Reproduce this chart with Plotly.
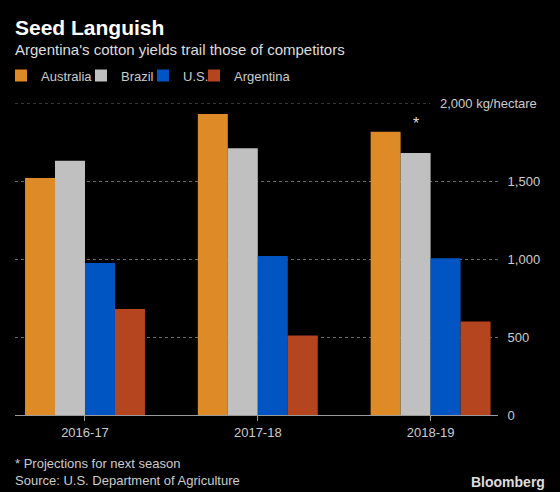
import plotly.graph_objects as go

seasons = ["2016-17", "2017-18", "2018-19"]
australia = [1520, 1930, 1815]
brazil = [1630, 1710, 1680]
us = [975, 1020, 1005]
argentina = [680, 510, 600]
series_names = ["Australia", "Brazil", "U.S.", "Argentina"]
series_values = [australia, brazil, us, argentina]
colors = ["#de8a26", "#c0c0c0", "#0055c2", "#b5451f"]
y_ticks = [0, 500, 1000, 1500]
y_tick_labels = ["0", "500", "1,000", "1,500"]

FONT = "Liberation Sans"
W, H = 560, 492
L, R, T, B = 15, 62, 103, 77
PW, PH = W - L - R, H - T - B


def px(x):
    return (x - L) / PW


def py(y):
    return (H - B - y) / PH


legend_ids = ["legend", "legend2", "legend3", "legend4"]
legend_x = [1, 81, 143, 194]

fig = go.Figure()
for name, vals, col, lid in zip(series_names, series_values, colors, legend_ids):
    fig.add_trace(go.Bar(x=seasons, y=vals, name=name, marker_color=col,
                         marker_line_width=0, legend=lid))

legend_common = dict(orientation="h", xref="container", yref="container",
                     y=(H - 75.5) / H, yanchor="middle", xanchor="left",
                     font=dict(size=13, color="#cccccc", family=FONT),
                     bgcolor="rgba(0,0,0,0)", itemwidth=30, borderwidth=0)
legend_layout = {}
for lid, lx in zip(legend_ids, legend_x):
    legend_layout[lid] = dict(legend_common, x=lx / W)

fig.update_layout(
    width=W, height=H,
    paper_bgcolor="black", plot_bgcolor="black",
    margin=dict(l=L, r=R, t=T, b=B),
    barmode="group", bargap=0.306, bargroupgap=0,
    font=dict(family=FONT, color="#bbbbbb", size=13),
    showlegend=True,
    xaxis=dict(type="category", range=[-0.405, 2.39], showgrid=False,
               showline=True, linecolor="#9a9a9a", linewidth=1,
               ticks="outside", ticklen=5, tickcolor="#9a9a9a",
               tickfont=dict(size=13, color="#cccccc"), fixedrange=True),
    yaxis=dict(range=[0, 2000], side="right", tickvals=y_ticks,
               ticktext=y_tick_labels, showgrid=True, gridcolor="#6a6a6a",
               griddash="dot", gridwidth=1, zeroline=False,
               ticks="outside", ticklen=6, tickcolor="black",
               tickfont=dict(size=13, color="#cccccc"), fixedrange=True),
    **legend_layout,
)

# top gridline (shortened to leave room for the unit label)
fig.add_shape(type="line", xref="paper", yref="y", x0=0, x1=px(430),
              y0=2000, y1=2000, line=dict(color="#6a6a6a", width=1, dash="dot"),
              layer="below")
fig.add_annotation(xref="paper", yref="y", x=px(539), y=2000, xanchor="right",
                   yanchor="middle", text="2,000 kg/hectare", showarrow=False,
                   font=dict(size=13, color="#cccccc"))

# asterisk over projected Brazil value
bar_w = (1 - 0.306) / 4
fig.add_annotation(xref="x", yref="y", x=2 - bar_w / 2, y=brazil[2],
                   yanchor="bottom", yshift=19, text="*", showarrow=False,
                   font=dict(size=16, color="#dddddd"))

# title / subtitle
fig.add_annotation(xref="paper", yref="paper", x=px(13), y=py(27), xanchor="left",
                   yanchor="middle", text="<b>Seed Languish</b>",
                   showarrow=False, font=dict(size=21, color="white"))
fig.add_annotation(xref="paper", yref="paper", x=px(13), y=py(50), xanchor="left",
                   yanchor="middle", text="Argentina's cotton yields trail those of competitors",
                   showarrow=False, font=dict(size=15, color="#dddddd"))

# footnotes
fig.add_annotation(xref="paper", yref="paper", x=px(13), y=py(464), xanchor="left",
                   yanchor="middle", text="* Projections for next season",
                   showarrow=False, font=dict(size=13, color="#cccccc"))
fig.add_annotation(xref="paper", yref="paper", x=px(13), y=py(480), xanchor="left",
                   yanchor="middle", text="Source: U.S. Department of Agriculture",
                   showarrow=False, font=dict(size=13, color="#cccccc"))
fig.add_annotation(xref="paper", yref="paper", x=px(547), y=py(482),
                   xanchor="right", yanchor="middle", text="<b>Bloomberg</b>",
                   showarrow=False, font=dict(size=14, color="#dddddd"))

fig.write_html("out.html", config={"displayModeBar": False},
               post_script="document.body.style.margin='0';")
